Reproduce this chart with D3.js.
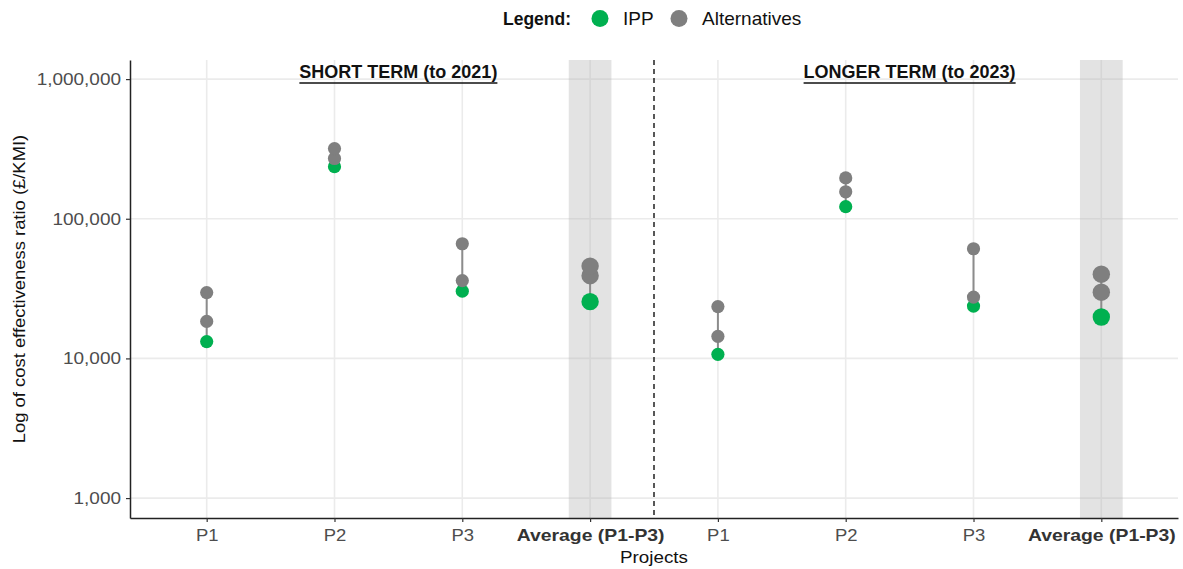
<!DOCTYPE html>
<html>
<head>
<meta charset="utf-8">
<script src="https://cdn.jsdelivr.net/npm/d3@7"></script>
<style>
  body { margin: 0; background: #fff; }
  svg { display: block; font-family: "Liberation Sans", Arial, sans-serif; }
</style>
</head>
<body>
<div id="chart"></div>
<script>
// Data
const periods = ["SHORT TERM (to 2021)", "LONGER TERM (to 2023)"];
const projects = ["P1", "P2", "P3", "Average (P1-P3)"];

const ippShort = [13200, 236000, 30300, 25500];
const altLowShort = [18400, 270000, 36100, 39100];
const altHighShort = [29600, 318000, 66200, 45800];

const ippLong = [10700, 122000, 23700, 19800];
const altLowLong = [14400, 156000, 27500, 29800];
const altHighLong = [23500, 196000, 61000, 40100];

const yTicks = [1000, 10000, 100000, 1000000];
const yLimits = [720, 1370000];

const legendLabels = ["IPP", "Alternatives"];

// Build rows
const series = [
    { period: 0, ipp: ippShort, lo: altLowShort, hi: altHighShort },
    { period: 1, ipp: ippLong, lo: altLowLong, hi: altHighLong }
];
const rows = [];
series.forEach(s => {
    projects.forEach((p, i) => {
        rows.push({
            key: s.period + "|" + p,
            project: p,
            period: s.period,
            avg: i === projects.length - 1,
            ipp: s.ipp[i],
            lo: s.lo[i],
            hi: s.hi[i]
        });
    });
});

const W = 1183, H = 569;
const margin = {top: 60, right: 5, bottom: 51, left: 130};
const green = "#00b050", grey = "#7f7f7f";

const svg = d3.select("#chart").append("svg")
    .attr("width", W)
    .attr("height", H);

const x = d3.scalePoint()
    .domain(rows.map(d => d.key))
    .range([margin.left, W - margin.right])
    .padding(0.6);

const y = d3.scaleLog()
    .domain(yLimits)
    .range([H - margin.bottom, margin.top]);

const panelTop = margin.top, panelBottom = H - margin.bottom;

// stretch text horizontally (in its own direction)
function stretch(sel, k, rot) {
    sel.each(function() {
        const t = d3.select(this);
        const tx = +t.attr("x") || 0, ty = +t.attr("y") || 0;
        t.attr("x", 0).attr("y", 0)
            .attr("transform", `translate(${tx},${ty})${rot ? " rotate(" + rot + ")" : ""} scale(${k},1)`);
    });
}

// Gridlines
svg.append("g")
    .selectAll("line")
    .data(yTicks)
    .join("line")
    .attr("x1", margin.left)
    .attr("x2", W - margin.right)
    .attr("y1", d => y(d))
    .attr("y2", d => y(d))
    .attr("stroke", "#ebebeb")
    .attr("stroke-width", 1.6);

svg.append("g")
    .selectAll("line")
    .data(rows)
    .join("line")
    .attr("x1", d => x(d.key))
    .attr("x2", d => x(d.key))
    .attr("y1", panelTop)
    .attr("y2", panelBottom)
    .attr("stroke", "#ebebeb")
    .attr("stroke-width", 1.6);

// Shaded band behind averages
const bandHalf = x.step() * 0.167;
svg.append("g")
    .selectAll("rect")
    .data(rows.filter(d => d.avg))
    .join("rect")
    .attr("x", d => x(d.key) - bandHalf)
    .attr("width", bandHalf * 2)
    .attr("y", panelTop)
    .attr("height", panelBottom - panelTop)
    .attr("fill", "#b0b0b0")
    .attr("opacity", 0.35);

// Divider between periods
const divX = (x(rows[3].key) + x(rows[4].key)) / 2;
svg.append("line")
    .attr("x1", divX)
    .attr("x2", divX)
    .attr("y1", panelTop)
    .attr("y2", panelBottom)
    .attr("stroke", "#111")
    .attr("stroke-width", 1.4)
    .attr("stroke-dasharray", "5,4");

// Period titles (centred between P2 and P3)
periods.forEach((title, i) => {
    const cx = (x(i + "|P2") + x(i + "|P3")) / 2;
    const t = svg.append("text")
        .attr("x", cx)
        .attr("y", 78)
        .attr("text-anchor", "middle")
        .style("font-size", "18px")
        .style("font-weight", "bold")
        .attr("fill", "#111")
        .text(title);
    const b = t.node().getBBox();
    svg.append("line")
        .attr("x1", b.x)
        .attr("x2", b.x + b.width)
        .attr("y1", 83)
        .attr("y2", 83)
        .attr("stroke", "#111")
        .attr("stroke-width", 1.3);
});

// Segments from IPP to highest alternative
svg.append("g")
    .selectAll("line")
    .data(rows)
    .join("line")
    .attr("x1", d => x(d.key))
    .attr("x2", d => x(d.key))
    .attr("y1", d => y(d.ipp))
    .attr("y2", d => y(d.hi))
    .attr("stroke", "#8c8c8c")
    .attr("stroke-width", 2);

const rad = d => d.avg ? 8.7 : 6.6;

// IPP points
svg.append("g")
    .selectAll("circle")
    .data(rows)
    .join("circle")
    .attr("cx", d => x(d.key))
    .attr("cy", d => y(d.ipp))
    .attr("r", rad)
    .attr("fill", green);

// Alternative points
const alts = rows.flatMap(d => [{d, v: d.lo}, {d, v: d.hi}]);
svg.append("g")
    .selectAll("circle")
    .data(alts)
    .join("circle")
    .attr("cx", a => x(a.d.key))
    .attr("cy", a => y(a.v))
    .attr("r", a => rad(a.d))
    .attr("fill", grey);

// Y axis
const yAxis = svg.append("g")
    .attr("transform", `translate(${margin.left},0)`)
    .call(d3.axisLeft(y)
        .tickValues(yTicks)
        .tickFormat(d3.format(","))
        .tickSize(4)
        .tickSizeOuter(0)
        .tickPadding(5));
yAxis.select(".domain").attr("stroke", "#222").attr("stroke-width", 1.5);
yAxis.selectAll(".tick line").attr("stroke", "#333").attr("stroke-width", 1.2);
yAxis.selectAll(".tick text")
    .attr("fill", "#4d4d4d")
    .style("font-size", "16.5px")
    .style("font-family", "'Liberation Sans', Arial, sans-serif")
    .call(stretch, 1.15);

// X axis
const xAxis = svg.append("g")
    .attr("transform", `translate(0,${panelBottom})`)
    .call(d3.axisBottom(x)
        .tickFormat(k => k.split("|")[1])
        .tickSize(4)
        .tickSizeOuter(0)
        .tickPadding(7));
xAxis.select(".domain").attr("stroke", "#222").attr("stroke-width", 1.5);
xAxis.selectAll(".tick line").attr("stroke", "#333").attr("stroke-width", 1.2);
xAxis.selectAll(".tick text")
    .style("font-family", "'Liberation Sans', Arial, sans-serif")
    .style("font-size", d => d.endsWith("Average (P1-P3)") ? "17.3px" : "16.5px")
    .style("font-weight", d => d.endsWith("Average (P1-P3)") ? "bold" : "normal")
    .attr("fill", d => d.endsWith("Average (P1-P3)") ? "#333" : "#4d4d4d")
    .call(stretch, 1.12);

// Axis titles
svg.append("text")
    .attr("x", (margin.left + W - margin.right) / 2)
    .attr("y", 563)
    .attr("text-anchor", "middle")
    .style("font-size", "16.5px")
    .attr("fill", "#111")
    .text("Projects")
    .call(stretch, 1.14);

svg.append("text")
    .attr("x", 25)
    .attr("y", (panelTop + panelBottom) / 2)
    .attr("text-anchor", "middle")
    .style("font-size", "16px")
    .attr("fill", "#111")
    .text("Log of cost effectiveness ratio (£/KMI)")
    .call(stretch, 1.15, -90);

// Legend
const legend = svg.append("g");
legend.append("text")
    .attr("x", 503)
    .attr("y", 25)
    .style("font-size", "17.5px")
    .style("font-weight", "bold")
    .attr("fill", "#111")
    .text("Legend:");

const legendX = [600, 679];
const legendColor = [green, grey];
legendLabels.forEach((lab, i) => {
    legend.append("circle")
        .attr("cx", legendX[i])
        .attr("cy", 18.5)
        .attr("r", 8.5)
        .attr("fill", legendColor[i]);
    legend.append("text")
        .attr("x", legendX[i] + 23)
        .attr("y", 25)
        .style("font-size", "19px")
        .attr("fill", "#111")
        .text(lab);
});
</script>
</body>
</html>
